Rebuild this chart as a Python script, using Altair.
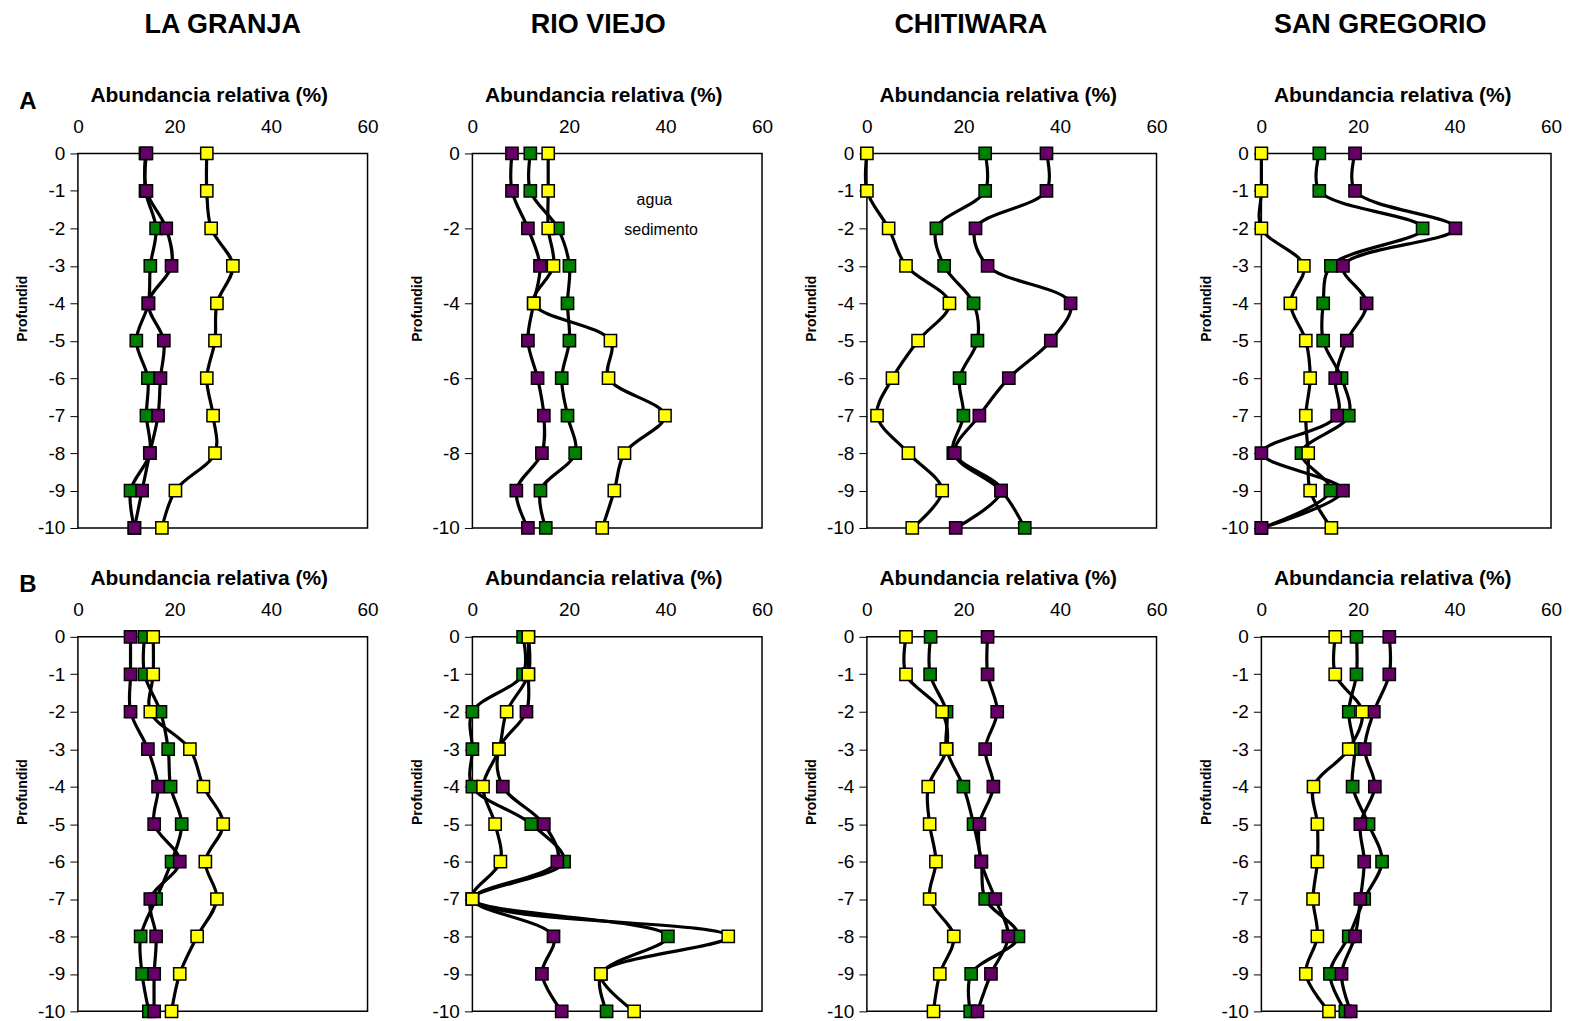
import altair as alt
import pandas as pd

sites = ["LA GRANJA", "RIO VIEJO", "CHITIWARA", "SAN GREGORIO"]
rows = ["A", "B"]
series = ["verde", "morado", "amarillo"]
series_colors = ["#008000", "#660066", "#FFFF00"]
depths = [0, -1, -2, -3, -4, -5, -6, -7, -8, -9, -10]
x_ticks = [0, 20, 40, 60]
title_shift = {"LA GRANJA": 0, "RIO VIEJO": -19, "CHITIWARA": -41, "SAN GREGORIO": -26}

# Row A
granja_a_verde = [14.0, 14.0, 16.2, 15.0, 14.6, 12.1, 14.5, 14.2, 14.9, 10.9, 11.7]
granja_a_morado = [14.2, 14.2, 18.3, 19.4, 14.6, 17.8, 17.1, 16.6, 14.9, 13.3, 11.7]
granja_a_amarillo = [26.7, 26.7, 27.6, 32.1, 28.8, 28.4, 26.7, 28.0, 28.4, 20.2, 17.4]

rio_a_verde = [12.0, 12.0, 17.7, 20.1, 19.7, 20.1, 18.5, 19.7, 21.3, 14.1, 15.2]
rio_a_morado = [8.2, 8.2, 11.5, 14.0, 12.7, 11.5, 13.5, 14.8, 14.4, 9.1, 11.5]
rio_a_amarillo = [15.7, 15.7, 15.7, 16.8, 12.7, 28.6, 28.2, 39.9, 31.5, 29.4, 26.9]

chiti_a_verde = [24.5, 24.5, 14.4, 16.0, 22.1, 22.9, 19.2, 20.0, 17.9, 27.8, 32.7]
chiti_a_morado = [37.2, 37.2, 22.5, 25.0, 42.2, 38.1, 29.4, 23.3, 18.2, 27.8, 18.4]
chiti_a_amarillo = [0.0, 0.0, 4.5, 8.1, 17.1, 10.6, 5.3, 2.1, 8.6, 15.6, 9.4]

sang_a_verde = [12.0, 12.0, 33.4, 14.4, 12.8, 12.8, 16.6, 18.1, 8.3, 14.3, 0.0]
sang_a_morado = [19.4, 19.4, 40.2, 16.9, 21.8, 17.7, 15.3, 15.7, 0.0, 16.9, 0.0]
sang_a_amarillo = [0.0, 0.0, 0.0, 8.8, 6.0, 9.2, 10.1, 9.2, 9.7, 10.1, 14.5]

# Row B
granja_b_verde = [13.8, 13.8, 17.1, 18.7, 19.2, 21.5, 19.4, 16.2, 13.0, 13.3, 14.7]
granja_b_morado = [10.9, 10.9, 10.9, 14.5, 16.6, 15.8, 21.1, 15.0, 16.2, 15.8, 15.8]
granja_b_amarillo = [15.6, 15.6, 15.0, 23.2, 26.0, 30.1, 26.4, 28.8, 24.7, 21.1, 19.4]

rio_b_verde = [10.5, 10.5, 0.0, 0.0, 0.0, 12.2, 19.0, 0.0, 40.5, 26.6, 27.8]
rio_b_morado = [11.6, 11.6, 11.2, 5.5, 6.3, 14.8, 17.6, 0.0, 16.8, 14.4, 18.5]
rio_b_amarillo = [11.6, 11.6, 7.1, 5.5, 2.2, 4.7, 5.8, 0.0, 53.0, 26.6, 33.5]

chiti_b_verde = [13.2, 13.1, 16.5, 16.5, 20.0, 22.1, 23.7, 24.5, 31.4, 21.6, 21.4]
chiti_b_morado = [25.0, 25.0, 27.0, 24.5, 26.2, 23.3, 23.7, 26.6, 29.3, 25.7, 22.9]
chiti_b_amarillo = [8.1, 8.1, 15.6, 16.5, 12.7, 13.0, 14.3, 13.0, 18.0, 15.1, 13.8]

sang_b_verde = [19.7, 19.7, 18.1, 19.3, 18.9, 22.2, 25.0, 21.3, 18.1, 14.2, 17.4]
sang_b_morado = [26.5, 26.5, 23.3, 21.4, 23.5, 20.5, 21.3, 20.5, 19.4, 16.6, 18.5]
sang_b_amarillo = [15.3, 15.3, 20.9, 18.1, 10.8, 11.6, 11.6, 10.7, 11.6, 9.2, 14.0]

panel_data = {
    ("A", "LA GRANJA"): [granja_a_verde, granja_a_morado, granja_a_amarillo],
    ("A", "RIO VIEJO"): [rio_a_verde, rio_a_morado, rio_a_amarillo],
    ("A", "CHITIWARA"): [chiti_a_verde, chiti_a_morado, chiti_a_amarillo],
    ("A", "SAN GREGORIO"): [sang_a_verde, sang_a_morado, sang_a_amarillo],
    ("B", "LA GRANJA"): [granja_b_verde, granja_b_morado, granja_b_amarillo],
    ("B", "RIO VIEJO"): [rio_b_verde, rio_b_morado, rio_b_amarillo],
    ("B", "CHITIWARA"): [chiti_b_verde, chiti_b_morado, chiti_b_amarillo],
    ("B", "SAN GREGORIO"): [sang_b_verde, sang_b_morado, sang_b_amarillo],
}

FONT = "Liberation Sans"
W, H = 290, 375


def make_panel(row, site):
    recs = []
    for s, vals in zip(series, panel_data[(row, site)]):
        for i, (d, v) in enumerate(zip(depths, vals)):
            recs.append({"serie": s, "idx": i, "profundidad": d, "valor": v})
    df = pd.DataFrame(recs)
    base = alt.Chart(df)
    x = alt.X(
        "valor:Q",
        scale=alt.Scale(domain=[0, 60], nice=False, zero=False),
        axis=alt.Axis(
            orient="top", values=x_ticks, title="Abundancia relativa (%)",
            ticks=False, tickSize=0, domain=False, grid=False, labelFlush=False,
            labelPadding=17, labelFontSize=19, labelFont=FONT, labelColor="black",
            titleFontSize=21, titleFont=FONT, titleFontWeight="bold", titleColor="black",
            titleY=-58, titleBaseline="middle", titleX=131,
        ),
    )
    y = alt.Y(
        "profundidad:Q",
        scale=alt.Scale(domain=[-10, 0], nice=False, zero=False),
        axis=alt.Axis(
            values=depths, title="Profundid", grid=False, domain=False, labelFlush=False,
            ticks=True, tickSize=8, tickColor="black", tickWidth=1,
            labelPadding=5, labelFontSize=19, labelFont=FONT, labelColor="black",
            labelExpr="datum.value == 0 ? '0' : '-' + format(abs(datum.value), 'd')",
            titleFont=FONT, titleFontSize=14, titleFontWeight="bold",
            titleColor="black", titleX=-55, titleY=155, titleBaseline="middle",
            titleAngle=270,
        ),
    )
    lines = base.mark_line(
        color="black", strokeWidth=3.2, interpolate="catmull-rom"
    ).encode(x=x, y=y, detail="serie:N", order="idx:Q")
    pts = base.mark_square(
        size=150, opacity=1, stroke="black", strokeWidth=1.5
    ).encode(
        x=x, y=y,
        color=alt.Color("serie:N", scale=alt.Scale(domain=series, range=series_colors), legend=None),
    )
    layers = [lines, pts]
    if site == "LA GRANJA":
        lab = alt.Chart(pd.DataFrame({"t": [row]})).mark_text(
            font=FONT, fontSize=24, fontWeight="bold", color="black"
        ).encode(x=alt.value(-50), y=alt.value(-52), text="t:N")
        layers.append(lab)
    if row == "A" and site == "RIO VIEJO":
        notes = alt.Chart(pd.DataFrame({"t": ["agua", "sedimento"], "vx": [37.7, 39.1], "vy": [-1.25, -2.05]})).mark_text(
            font=FONT, fontSize=16, color="black"
        ).encode(x="vx:Q", y="vy:Q", text="t:N")
        layers.append(notes)
    ch = alt.layer(*layers).properties(width=W, height=H)
    if row == "A":
        ch = ch.properties(title=alt.TitleParams(
            site, font=FONT, fontSize=27, fontWeight="bold", color="black",
            anchor="middle", frame="group", offset=46, dx=title_shift[site]))
    return ch


row_charts = []
for r in rows:
    row_charts.append(alt.hconcat(*[make_panel(r, s) for s in sites], spacing=30))

chart = alt.vconcat(*row_charts, spacing=28).properties(
    padding={"left": 7, "top": 1, "right": 0, "bottom": 0},
    background="white",
).configure_view(
    stroke="black", strokeWidth=1.5
)

chart.save("out.html", embed_options={"renderer": "svg", "actions": False})
